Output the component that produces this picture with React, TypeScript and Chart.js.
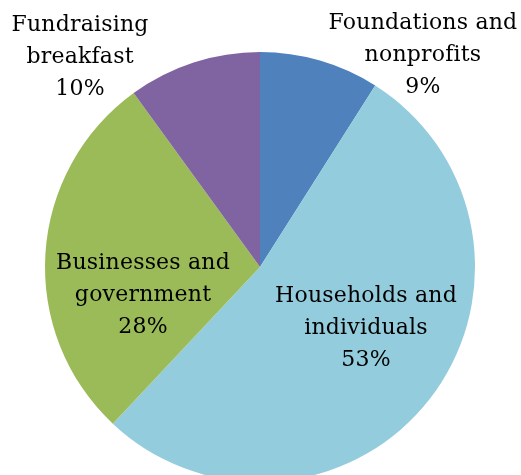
import React, { useEffect, useRef } from "react";
import { Chart, registerables } from "chart.js";

Chart.register(...registerables);

const categories: string[][] = [
  ["Foundations and", "nonprofits"],
  ["Households and", "individuals"],
  ["Businesses and", "government"],
  ["Fundraising", "breakfast"],
];
const values: number[] = [9, 53, 28, 10];
const colors: string[] = ["#4F81BD", "#93CDDD", "#9BBB59", "#8064A2"];
// label anchor offsets relative to pie centre, in units of radius
const labelOffsets: [number, number][] = [
  [0.758, -0.986],
  [0.493, 0.284],
  [-0.544, 0.13],
  [-0.837, -0.977],
];

const FONT = "22px 'DejaVu Serif'";
const LINE_H = 32;

const labelPlugin = {
  id: "pieLabels",
  afterDraw(chart: any) {
    const ctx = chart.ctx;
    const meta = chart.getDatasetMeta(0);
    const total = values.reduce((a, b) => a + b, 0);
    ctx.save();
    ctx.font = FONT;
    (ctx as any).letterSpacing = "0.2px";
    ctx.fillStyle = "#000";
    ctx.textAlign = "center";
    ctx.textBaseline = "middle";
    meta.data.forEach((arc: any, i: number) => {
      const r = arc.outerRadius;
      const cx = arc.x + labelOffsets[i][0] * r;
      const cy = arc.y + labelOffsets[i][1] * r;
      const pct = Math.round((values[i] / total) * 100) + "%";
      const lines = [...categories[i], pct];
      lines.forEach((t, j) => {
        ctx.fillText(t, cx, cy + (j - 1) * LINE_H);
      });
    });
    ctx.restore();
  },
};

export default function App() {
  const ref = useRef<HTMLCanvasElement>(null);
  useEffect(() => {
    document.body.style.margin = "0";
    const chart = new Chart(ref.current!, {
      type: "pie",
      data: {
        labels: categories.map((c) => c.join(" ")),
        datasets: [
          {
            data: values,
            backgroundColor: colors,
            borderWidth: 0,
            hoverOffset: 0,
            offset: 0,
          },
        ],
      },
      options: {
        responsive: false,
        animation: false,
        layout: { padding: { top: 52, left: 45, right: 46, bottom: 0 } },
        plugins: {
          legend: { display: false },
          tooltip: { enabled: false },
        },
      },
      plugins: [labelPlugin],
    });
    return () => chart.destroy();
  }, []);
  return (
    <div
      style={{
        position: "absolute",
        left: 0,
        top: 0,
        width: 521,
        height: 475,
        overflow: "hidden",
        background: "#fff",
      }}
    >
      <canvas ref={ref} width={521} height={482} />
    </div>
  );
}
